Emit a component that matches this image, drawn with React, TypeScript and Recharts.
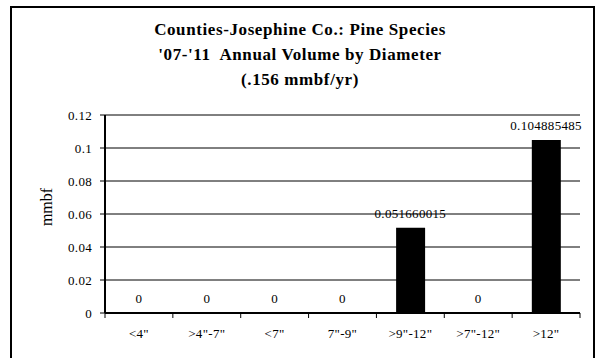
import React from "react";
import { ComposedChart, Bar, Line, XAxis, YAxis, CartesianGrid, LabelList } from "recharts";

const categories = ['<4"', '>4"-7"', '<7"', '7"-9"', '>9"-12"', '>7"-12"', '>12"'];
const volumes = [0, 0, 0, 0, 0.051660015, 0, 0.104885485];
const yTicks = [0, 0.02, 0.04, 0.06, 0.08, 0.1, 0.12];
const titleLines = [
  "Counties-Josephine Co.: Pine Species",
  "'07-'11  Annual Volume by Diameter",
  "(.156 mmbf/yr)",
];
const yLabel = "mmbf";

const font = "'Liberation Serif', 'Times New Roman', serif";
const PLOT_LEFT = 105;
const PLOT_RIGHT = 580;
const BAND = (PLOT_RIGHT - PLOT_LEFT) / categories.length;

function XTick(props: any) {
  const { x, y, payload, index } = props;
  const left = x - BAND / 2;
  return (
    <g>
      <line x1={left} y1={y - 8} x2={left} y2={y - 3} stroke="#000" />
      {index === categories.length - 1 && (
        <line x1={x + BAND / 2} y1={y - 8} x2={x + BAND / 2} y2={y - 3} stroke="#000" />
      )}
      <text x={x} y={y + 17} textAnchor="middle" style={{ fontFamily: font, fontSize: 13, letterSpacing: 0.3 }} fill="#000">
        {payload.value}
      </text>
    </g>
  );
}

function YTitle(props: any) {
  const { viewBox } = props;
  const cx = 46;
  const cy = viewBox.y + viewBox.height / 2 - 7;
  return (
    <text
      x={cx}
      y={cy}
      transform={`rotate(-90 ${cx} ${cy})`}
      textAnchor="middle"
      dominantBaseline="central"
      style={{ fontFamily: font, fontSize: 16 }}
      fill="#000"
    >
      {yLabel}
    </text>
  );
}

export default function App() {
  const data = categories.map((c, i) => ({ name: c, value: volumes[i] }));
  const textStyle = { fontFamily: font, fontSize: 13, fill: "#000", letterSpacing: 0.3 };

  return (
    <div
      style={{
        position: "absolute",
        left: 0,
        top: 0,
        width: 599,
        height: 358,
        overflow: "hidden",
        background: "#fff",
        fontFamily: font,
      }}
    >
      <div
        style={{
          position: "absolute",
          left: 10,
          top: 6,
          width: 581,
          height: 370,
          border: "2px solid #000",
        }}
      />
      <div
        style={{
          position: "absolute",
          left: 100,
          width: 400,
          top: 17,
          textAlign: "center",
          fontFamily: font,
          fontWeight: "bold",
          fontSize: 17,
          letterSpacing: 0.6,
          lineHeight: "25px",
          color: "#000",
        }}
      >
        {titleLines.map((t) => (
          <div key={t} style={{ whiteSpace: "pre" }}>{t}</div>
        ))}
      </div>
      <div style={{ position: "absolute", left: 0, top: 0 }}>
        <ComposedChart
          width={599}
          height={358}
          data={data}
          margin={{ top: 115, right: 19, left: 45, bottom: 15 }}
          barCategoryGap="29%"
        >
          <CartesianGrid vertical={false} stroke="#000" strokeWidth={1} />
          <XAxis
            dataKey="name"
            axisLine={{ stroke: "#000", strokeWidth: 2 }}
            tickLine={false}
            tick={<XTick />}
            interval={0}
            height={30}
          />
          <YAxis
            domain={[0, 0.12]}
            ticks={yTicks}
            width={60}
            axisLine={{ stroke: "#000", strokeWidth: 2 }}
            tickLine={{ stroke: "#000" }}
            tickSize={5}
            tickMargin={8}
            tick={{ ...textStyle, style: { fontFamily: font } }}
            label={<YTitle />}
          />
          <YAxis
            yAxisId="frame"
            orientation="right"
            domain={[0, 0.12]}
            width={0}
            tick={false}
            tickLine={false}
            axisLine={{ stroke: "#000", strokeWidth: 1.5 }}
          />
          <Bar dataKey="value" fill="#000" isAnimationActive={false} />
          <Line
            dataKey="value"
            stroke="none"
            dot={false}
            activeDot={false}
            legendType="none"
            isAnimationActive={false}
          >
            <LabelList dataKey="value" position="top" offset={10} style={textStyle} />
          </Line>
        </ComposedChart>
      </div>
    </div>
  );
}
